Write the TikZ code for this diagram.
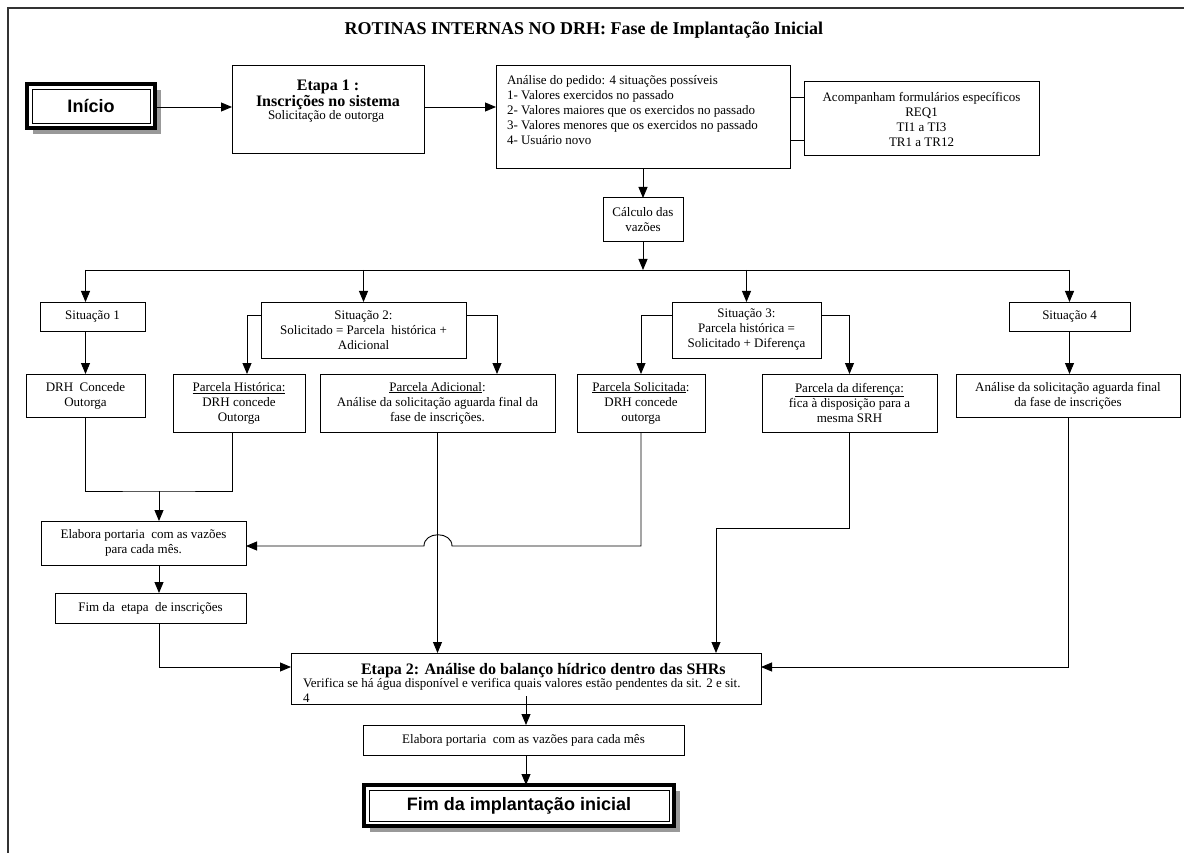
\documentclass[tikz,border=0pt]{standalone}
\usepackage{fontspec}
\setmainfont{Liberation Serif}
\newfontfamily\headsans{Liberation Sans}
\usetikzlibrary{arrows.meta,shadows}
\begin{document}
\begin{tikzpicture}[x=1pt,y=-1pt,
  every node/.style={inner sep=0pt, outer sep=0pt},
  body/.style={font=\fontsize{13}{15}\selectfont},
  bodybold/.style={font=\fontsize{16}{16}\selectfont\bfseries},
  box/.style={draw, line width=1pt, fill=white, rectangle, align=center, body},
  arr/.style={line width=0.9pt, -{Triangle[length=11pt,width=9pt]}},
  link/.style={line width=0.9pt},
  term/.style={draw, line width=4pt, fill=white,
    font=\headsans\bfseries\fontsize{18}{20}\selectfont,
    drop shadow={shadow xshift=6pt, shadow yshift=-6pt, fill=black!40, opacity=1}},
  inner/.style={line width=0.8pt},
]
\useasboundingbox (0,0) rectangle (1184,853);
\draw[line width=1.6pt, black!80] (8,853) -- (8,8) -- (1184,8);

\node[font=\bfseries\fontsize{18}{20}\selectfont] (title) at (584,30) {ROTINAS INTERNAS NO DRH: Fase de Implantação Inicial};

% start
\node[term, minimum width=128pt, minimum height=44pt] (inicio) at (91,106) {Início};
\draw[inner] ([xshift=5pt,yshift=5pt]inicio.south west) rectangle ([xshift=-5pt,yshift=-5pt]inicio.north east);

% Etapa 1
\node[box, minimum width=192pt, minimum height=88pt] (etapa1) at (328,110) {};
\node[bodybold, anchor=base] (etapa1a) at (328,91) {Etapa 1 :};
\node[bodybold, anchor=base] (etapa1b) at (328,107) {Inscrições no sistema};
\node[body, anchor=base] (etapa1c) at (326,120) {Solicitação de outorga};

% Analise
\node[box, minimum width=294pt, minimum height=103pt] (analise) at (643,117.5) {};
\node[body, anchor=north west, align=left] (analiset) at (507,75) {Análise do pedido: 4 situações possíveis\\1- Valores exercidos no passado\\2- Valores maiores que os exercidos no passado\\3- Valores menores que os exercidos no passado\\4- Usuário novo};

\node[box, minimum width=235pt, minimum height=74pt] (acomp) at (921.5,119) {Acompanham formulários específicos\\REQ1\\TI1 a TI3\\TR1 a TR12};

\node[box, minimum width=80pt, minimum height=44pt] (calc) at (643,220) {Cálculo das\\vazões};

% situations
\node[box, minimum width=105pt, minimum height=29pt] (sit1) at (92.5,316.5) {Situação 1};
\node[box, minimum width=205pt, minimum height=56pt] (sit2) at (363.5,330) {Situação 2:\\Solicitado = Parcela\ \ histórica +\\Adicional};
\node[box, minimum width=149pt, minimum height=56pt] (sit3) at (746.5,330) {Situação 3:\\Parcela histórica =\\Solicitado + Diferença};
\node[box, minimum width=121pt, minimum height=29pt] (sit4) at (1069.5,316.5) {Situação 4};

% third row
\node[box, minimum width=119pt, minimum height=43pt] (drh) at (85.5,395.5) {DRH\ \ Concede\\Outorga};
\node[box, minimum width=132pt, minimum height=58pt] (phist) at (239,403) {\underline{Parcela Histórica:}\\DRH concede\\Outorga};
\node[box, minimum width=235pt, minimum height=58pt] (padic) at (437.5,403) {\underline{Parcela Adicional}:\\Análise da solicitação aguarda final da\\fase de inscrições.};
\node[box, minimum width=128pt, minimum height=58pt] (psol) at (641,403) {\underline{Parcela Solicitada}:\\DRH concede\\outorga};
\node[box, minimum width=175pt, minimum height=58pt] (pdif) at (849.5,403) {\underline{Parcela da diferença:}\\fica à disposição para a\\mesma SRH};
\node[box, minimum width=224pt, minimum height=43pt] (anasol) at (1068,395.5) {Análise da solicitação aguarda final\\da fase de inscrições};

\node[box, minimum width=205pt, minimum height=44pt] (elab1) at (143.5,543) {Elabora portaria\ \ com as vazões\\para cada mês.};
\node[box, minimum width=191pt, minimum height=30pt] (fimet) at (150.5,608) {Fim da\ \ etapa\ \ de inscrições};

% Etapa 2
\node[box, minimum width=470pt, minimum height=51pt] (etapa2) at (526,678.5) {};
\node[bodybold, anchor=base west] (etapa2a) at (361,674) {Etapa 2: Análise do balanço hídrico dentro das SHRs};
\node[body, anchor=base west] (etapa2b) at (303,687) {Verifica se há água disponível e verifica quais valores estão pendentes da sit. 2 e sit.};
\node[body, anchor=base west] (etapa2c) at (303,702) {4};

\node[box, minimum width=321pt, minimum height=30pt] (elab2) at (523.5,740) {Elabora portaria\ \ com as vazões para cada mês};

\node[term, minimum width=310pt, minimum height=41pt] (fim) at (519,805.5) {Fim da implantação inicial};
\draw[inner] ([xshift=5pt,yshift=5pt]fim.south west) rectangle ([xshift=-5pt,yshift=-5pt]fim.north east);

% connectors
\coordinate (ay) at (0,107);
\draw[arr] (inicio.east |- ay) -- (etapa1.west |- ay);
\draw[arr] (etapa1.east |- ay) -- (analise.west |- ay);

\coordinate (c1) at ([yshift=22pt]acomp.west);
\coordinate (c2) at ([yshift=-21pt]acomp.west);
\draw[link] (c1 -| analise.east) -- (c1);
\draw[link] (c2 -| analise.east) -- (c2);

\draw[arr] (analise.south) -- (calc.north);

\coordinate (busL) at (85.5,270);
\coordinate (busR) at (1069.5,270);
\draw[link] (busL) -- (busR);
\draw[arr] (calc.south) -- (calc.south |- busL);
\draw[arr] (busL) -- (busL |- sit1.north);
\draw[arr] (sit2.north |- busL) -- (sit2.north);
\draw[arr] (sit3.north |- busL) -- (sit3.north);
\draw[arr] (busR) -- (busR |- sit4.north);

\draw[arr] (drh.north |- sit1.south) -- (drh.north);
\draw[arr] ([yshift=15pt]sit2.west) -| ([xshift=8pt]phist.north);
\draw[arr] ([yshift=15pt]sit2.east) -| ([xshift=59.5pt]padic.north);
\draw[arr] ([yshift=15pt]sit3.west) -| (psol.north);
\draw[arr] ([yshift=15pt]sit3.east) -| (pdif.north);
\draw[arr] (sit4.south) -- (sit4.south |- anasol.north);

\coordinate (j1) at (159,491);
\draw[link] (drh.south) |- (j1) -| ([xshift=-7pt]phist.south);
\draw[arr] (j1) -- (j1 |- elab1.north);
\draw[arr] (j1 |- elab1.south) -- (j1 |- fimet.north);
\draw[arr] (j1 |- fimet.south) |- ([yshift=11.5pt]etapa2.west);

\draw[arr] (padic.south) -- (padic.south |- etapa2.north);

\coordinate (hy) at (438,546);
\draw[arr] (psol.south) |- (452,546) .. controls (452,531) and (424,531) .. (424,546) -- (hy -| elab1.east);

\coordinate (k) at (716,528);
\draw[arr] (pdif.south) |- (k) -- (k |- etapa2.north);

\draw[arr] (anasol.south) |- ([yshift=11.5pt]etapa2.east);

\coordinate (cx) at (526,0);
\draw[arr] ([yshift=8pt]etapa2.south) -- (cx |- elab2.north);
\draw[arr] (cx |- elab2.south) -- (cx |- fim.north);
\end{tikzpicture}
\end{document}
